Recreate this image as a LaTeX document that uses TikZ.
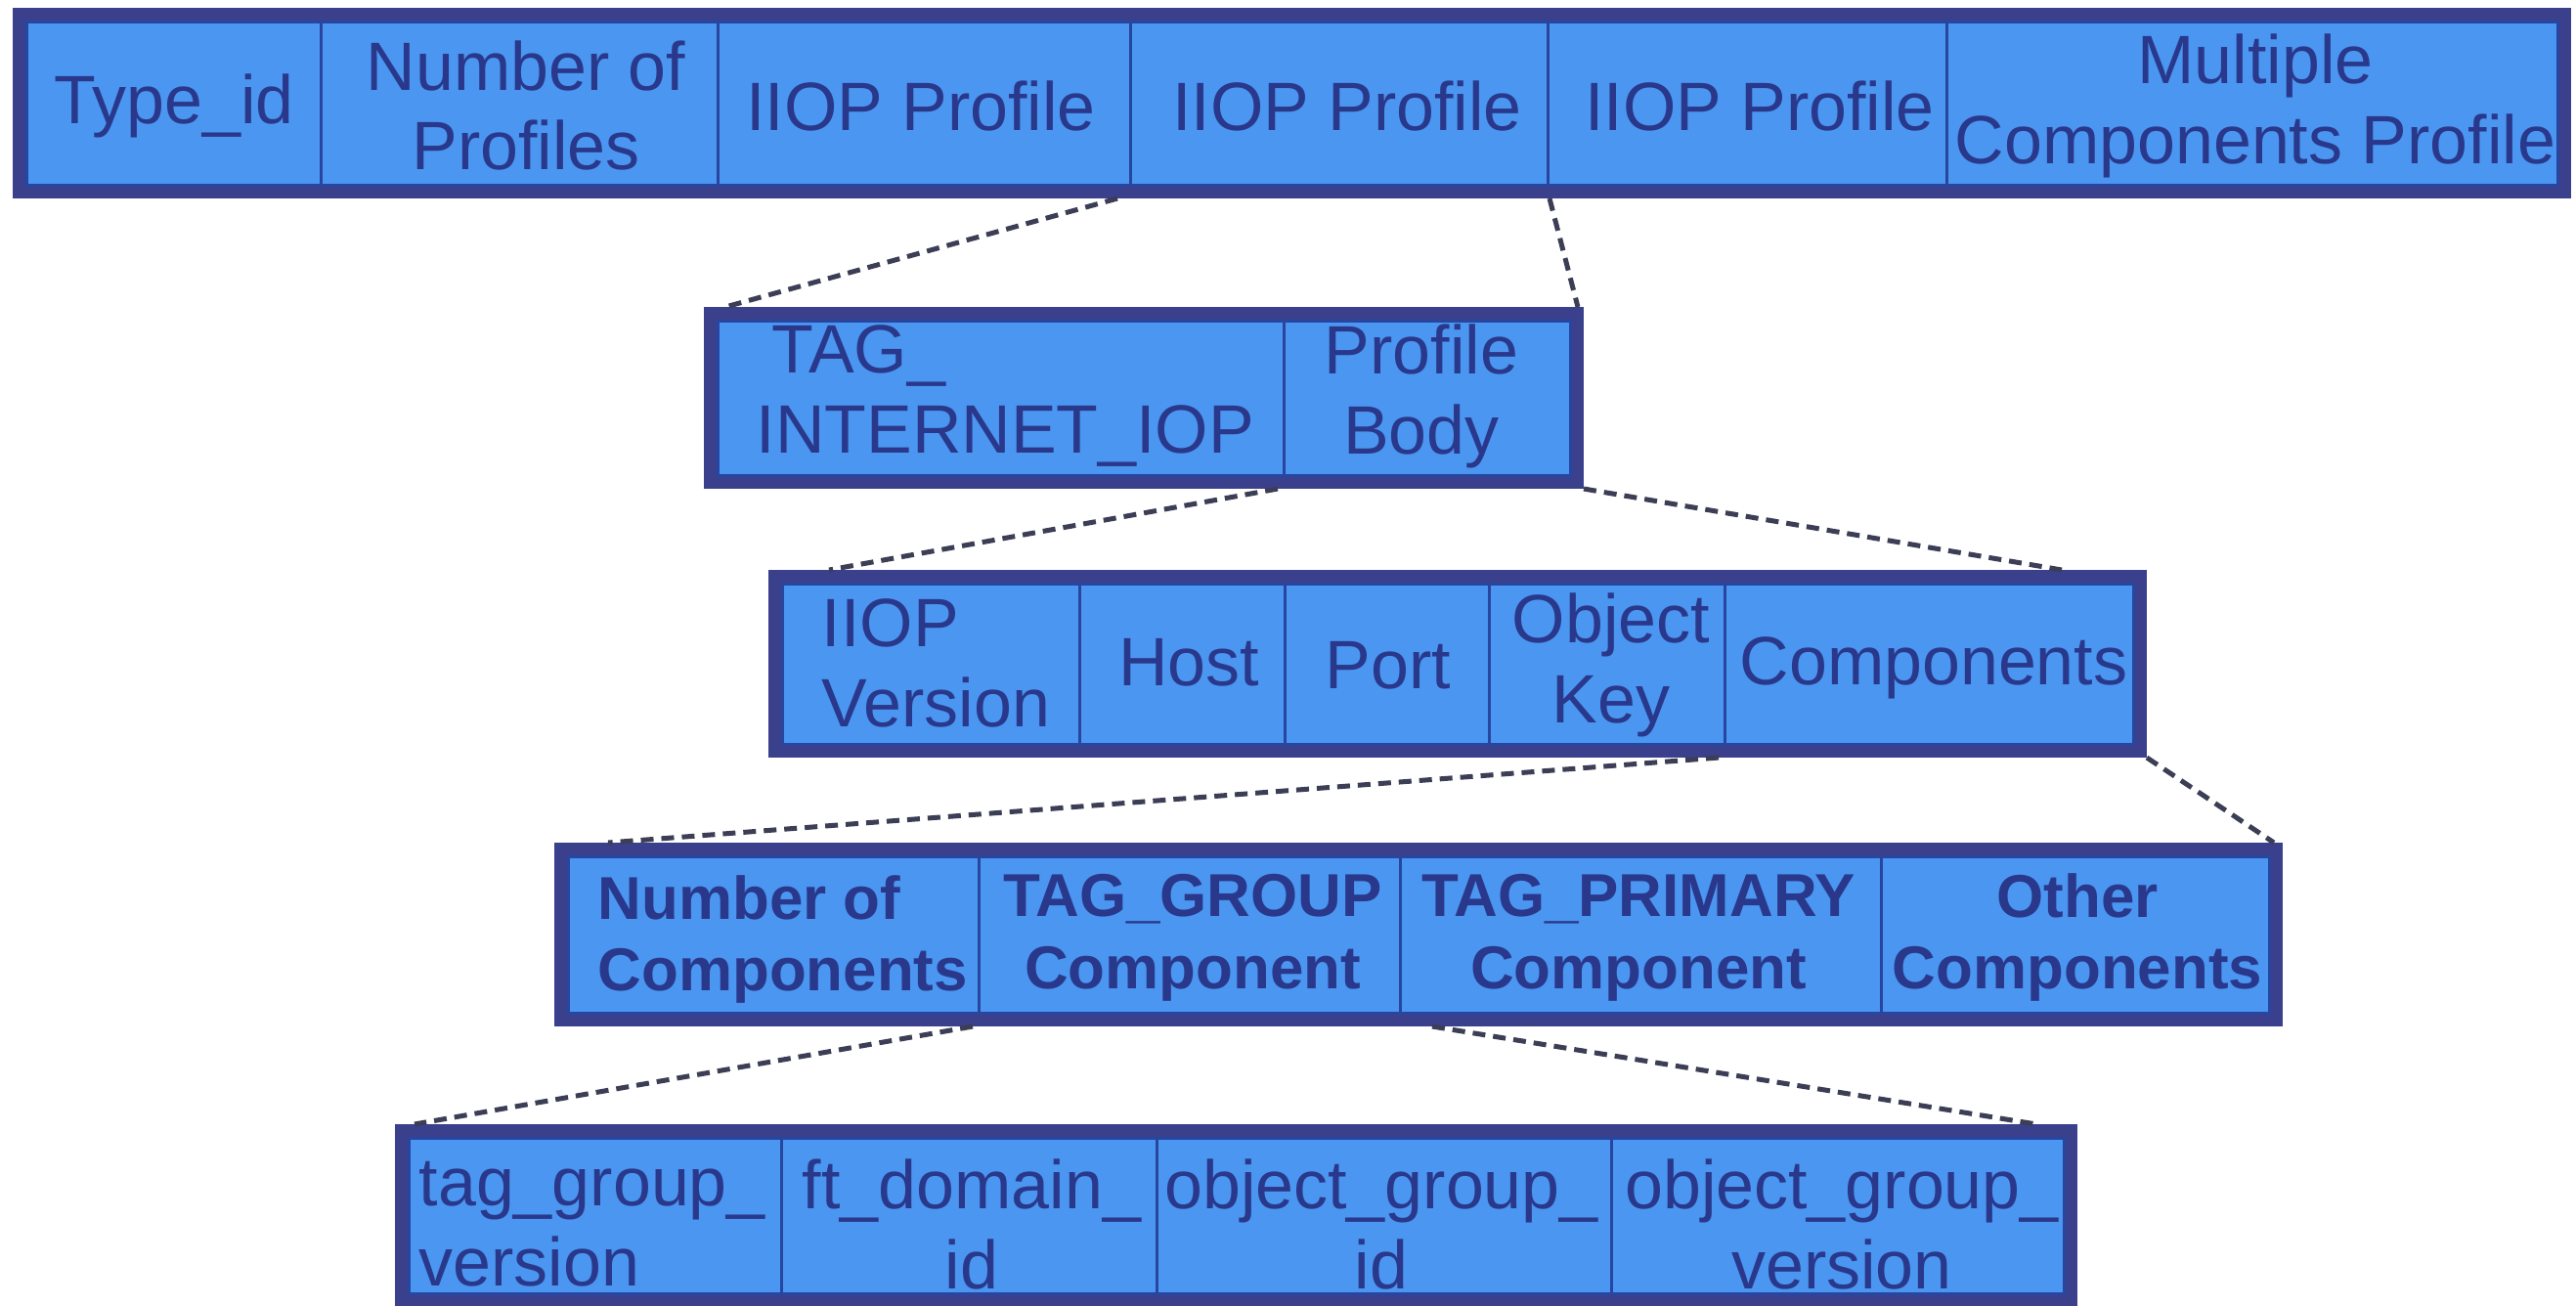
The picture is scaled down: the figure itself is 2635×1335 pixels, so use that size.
\documentclass[tikz,border=0pt]{standalone}
\usepackage{fontspec}
\setmainfont{Liberation Sans}
\usetikzlibrary{fit,calc}
\definecolor{boxfill}{RGB}{74,150,240}
\definecolor{boxborder}{RGB}{58,64,140}
\definecolor{divline}{RGB}{40,70,160}
\definecolor{txtcol}{RGB}{42,56,140}
\definecolor{dashcol}{RGB}{60,62,85}
\tikzset{
  rowbox/.style={draw=boxborder, fill=boxfill, line width=0.14cm, inner sep=-0.07cm, outer sep=0.07cm, rectangle},
  cellbox/.style={draw=divline, line width=0.03cm, inner sep=0pt, outer sep=0pt, rectangle},
  lbl/.style={text=txtcol, inner sep=0pt, align=center, font=\fontsize{19.9pt}{23.3pt}\selectfont},
  lbll/.style={lbl, align=left, anchor=west},
  blbl/.style={text=txtcol, inner sep=0pt, align=center, font=\fontsize{17.6pt}{21pt}\selectfont\bfseries},
  blbll/.style={blbl, align=left, anchor=west},
  conn/.style={draw=dashcol, line width=0.05cm, dash pattern=on 0.13cm off 0.08cm}
}
\begin{document}
\begin{tikzpicture}[x=0.01cm, y=-0.01cm]
\useasboundingbox (0,0) rectangle (2635,1335);
\fill[white] (0,0) rectangle (2635,1335);

% Row 1
\node[rowbox, fit={(13,8) (2630,203)}] (row1) {};
\node[cellbox, fit={(27,22) (328,189)}] (r1c1) {};
\node[cellbox, fit={(328,22) (734,189)}] (r1c2) {};
\node[cellbox, fit={(734,22) (1156,189)}] (r1c3) {};
\node[cellbox, fit={(1156,22) (1583,189)}] (r1c4) {};
\node[cellbox, fit={(1583,22) (1991,189)}] (r1c5) {};
\node[cellbox, fit={(1991,22) (2616,189)}] (r1c6) {};
\node[lbl] (t11) at (178,108) {Type\_id};
\node[lbl] (t12) at (538,108) {Number of\\Profiles};
\node[lbl] (t13) at (942,108) {IIOP Profile};
\node[lbl] (t14) at (1378,108) {IIOP Profile};
\node[lbl] (t15) at (1800,108) {IIOP Profile};
\node[lbl] (t16) at (2307,108) {Multiple\\Components Profile};

% Row 2
\node[rowbox, fit={(720,314) (1620,500)}] (row2) {};
\node[cellbox, fit={(734,328) (1313,486)}] (r2c1) {};
\node[cellbox, fit={(1313,328) (1606,486)}] (r2c2) {};
\node[lbll] (t21) at (773,405) {\hspace*{0.16cm}TAG\_\\INTERNET\_IOP};
\node[lbl] (t22) at (1454,405) {Profile\\Body};

% Row 3
\node[rowbox, fit={(786,583) (2196,775)}] (row3) {};
\node[cellbox, fit={(800,597) (1104,761)}] (r3c1) {};
\node[cellbox, fit={(1104,597) (1314,761)}] (r3c2) {};
\node[cellbox, fit={(1314,597) (1523,761)}] (r3c3) {};
\node[cellbox, fit={(1523,597) (1764,761)}] (r3c4) {};
\node[cellbox, fit={(1764,597) (2182,761)}] (r3c5) {};
\node[lbll] (t31) at (840,678) {IIOP\\Version};
\node[lbl] (t32) at (1216,678) {Host};
\node[lbl] (t33) at (1420,681) {Port};
\node[lbl] (t34) at (1648,680) {Object\\Key};
\node[lbl] (t35) at (1978,683) {Components};

% Row 4
\node[rowbox, fit={(567,862) (2335,1050)}] (row4) {};
\node[cellbox, fit={(581,876) (1001,1036)}] (r4c1) {};
\node[cellbox, fit={(1001,876) (1432,1036)}] (r4c2) {};
\node[cellbox, fit={(1432,876) (1924,1036)}] (r4c3) {};
\node[cellbox, fit={(1924,876) (2321,1036)}] (r4c4) {};
\node[blbll] (t41) at (611,961) {Number of\\Components};
\node[blbl] (t42) at (1220,959) {TAG\_GROUP\\Component};
\node[blbl] (t43) at (1676,959) {TAG\_PRIMARY\\Component};
\node[blbl] (t44) at (2125,959) {Other\\Components};

% Row 5
\node[rowbox, fit={(404,1150) (2125,1337)}] (row5) {};
\node[cellbox, fit={(418,1164) (799,1323)}] (r5c1) {};
\node[cellbox, fit={(799,1164) (1183,1323)}] (r5c2) {};
\node[cellbox, fit={(1183,1164) (1648,1323)}] (r5c3) {};
\node[cellbox, fit={(1648,1164) (2111,1323)}] (r5c4) {};
\node[lbll] (t51) at (428,1252) {tag\_group\_\\version};
\node[lbl] (t52) at (994,1252) {ft\_domain\_\\id};
\node[lbl] (t53) at (1413,1252) {object\_group\_\\id};
\node[lbl] (t54) at (1884,1252) {object\_group\_\\version};

% Connectors
\draw[conn] ($(r1c3.south east |- row1.south)+(-13,0)$) -- ($(row2.north west)+(22,0)$);
\draw[conn] ($(r1c4.south east |- row1.south)+(2,0)$) -- ($(row2.north east)+(-6,0)$);
\draw[conn] ($(r2c1.south east |- row2.south)+(-6,0)$) -- ($(row3.north west)+(62,0)$);
\draw[conn] (row2.south east) -- ($(row3.north east)+(-87,0)$);
\draw[conn] ($(r3c4.south east |- row3.south)+(-6,0)$) -- ($(row4.north west)+(55,0)$);
\draw[conn] (row3.south east) -- ($(row4.north east)+(-9,0)$);
\draw[conn] ($(r4c1.south east |- row4.south)+(-6,0)$) -- ($(row5.north west)+(20,0)$);
\draw[conn] ($(r4c2.south east |- row4.south)+(33,0)$) -- ($(row5.north east)+(-42,0)$);
\end{tikzpicture}
\end{document}
